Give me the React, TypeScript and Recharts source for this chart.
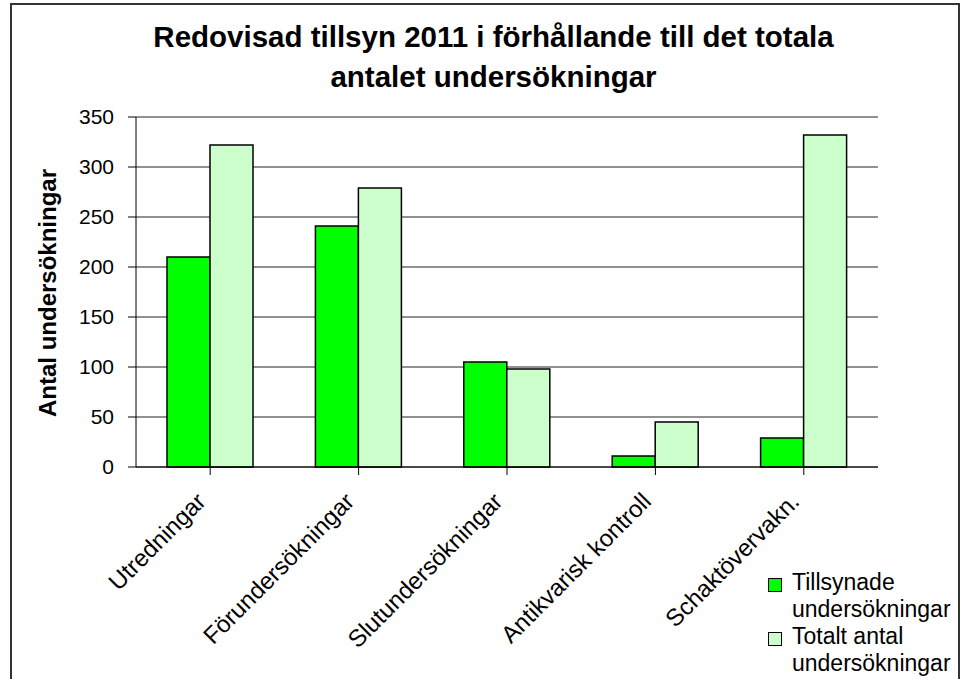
import { BarChart, Bar, XAxis, YAxis, CartesianGrid, Legend } from "recharts";

const CATEGORIES = [
  "Utredningar",
  "Förundersökningar",
  "Slutundersökningar",
  "Antikvarisk kontroll",
  "Schaktövervakn.",
];
const TILLSYNADE = [210, 241, 105, 11, 29];
const TOTALT = [322, 279, 98, 45, 332];
const Y_TICKS = [0, 50, 100, 150, 200, 250, 300, 350];

const SERIES = [
  { key: "tillsynade", name: "Tillsynade undersökningar", lines: ["Tillsynade", "undersökningar"], color: "#00ff00" },
  { key: "totalt", name: "Totalt antal undersökningar", lines: ["Totalt antal", "undersökningar"], color: "#ccffcc" },
];

const FONT = '"Liberation Sans", Arial, sans-serif';

const data = CATEGORIES.map((name, i) => ({
  name,
  tillsynade: TILLSYNADE[i],
  totalt: TOTALT[i],
}));

// rotated category label, text end sits just under the category centre
function CategoryTick(props: any) {
  const { x, y, payload } = props;
  return (
    <g transform={`translate(${x - 3},${y + 26})`}>
      <text
        textAnchor="end"
        transform="rotate(-45)"
        fontSize={24}
        fontFamily={FONT}
        fill="#000"
      >
        {payload.value}
      </text>
    </g>
  );
}

function LegendBox() {
  return (
    <div style={{ fontFamily: FONT, fontSize: 23, lineHeight: "27px", color: "#000" }}>
      {SERIES.map((s) => (
        <div key={s.key} style={{ display: "flex", alignItems: "flex-start" }}>
          <span
            style={{
              display: "inline-block",
              width: 12,
              height: 12,
              marginTop: 9,
              marginRight: 10,
              background: s.color,
              border: "1.5px solid #000",
            }}
          />
          <div>
            {s.lines.map((l) => (
              <div key={l}>{l}</div>
            ))}
          </div>
        </div>
      ))}
    </div>
  );
}

export default function App() {
  return (
    <div style={{ position: "absolute", left: 0, top: 0, width: 966, height: 679, background: "#fff", overflow: "hidden" }}>
      <div
        style={{
          position: "absolute",
          left: 10,
          top: 3,
          width: 946,
          height: 700,
          border: "2px solid #333",
        }}
      />
      <div
        style={{
          position: "absolute",
          left: 0,
          top: 17,
          width: 987,
          textAlign: "center",
          fontFamily: FONT,
          fontWeight: "bold",
          fontSize: 29.5,
          lineHeight: "40px",
          color: "#000",
        }}
      >
        Redovisad tillsyn 2011 i förhållande till det totala
        <br />
        antalet undersökningar
      </div>
      <BarChart
        width={966}
        height={679}
        data={data}
        barSize={43}
        barGap={0}
        margin={{ top: 117, right: 88, bottom: 112, left: 76 }}
        style={{ position: "absolute", left: 0, top: 0 }}
      >
        <CartesianGrid horizontal vertical={false} stroke="#222" strokeWidth={1} />
        <XAxis
          dataKey="name"
          height={100}
          interval={0}
          tick={<CategoryTick />}
          tickSize={8}
          axisLine={{ stroke: "#000" }}
          tickLine={{ stroke: "#000" }}
        />
        <YAxis
          width={60}
          domain={[0, 350]}
          ticks={Y_TICKS}
          interval={0}
          tickSize={8}
          tickMargin={14}
          axisLine={{ stroke: "#000" }}
          tickLine={{ stroke: "#000" }}
          tick={{ fontSize: 21, fontFamily: FONT, fill: "#000" }}
          label={() => (
            <text
              x={0}
              y={0}
              transform="translate(56,293) rotate(-90)"
              textAnchor="middle"
              fontSize={24}
              fontWeight="bold"
              fontFamily={FONT}
              fill="#000"
            >
              Antal undersökningar
            </text>
          )}
        />
        <Legend
          layout="horizontal"
          verticalAlign="middle"
          align="center"
          content={<LegendBox />}
          wrapperStyle={{ left: 768, top: 569, width: 200 }}
        />
        {SERIES.map((s) => (
          <Bar
            key={s.key}
            dataKey={s.key}
            name={s.name}
            fill={s.color}
            stroke="#000"
            strokeWidth={1.5}
            isAnimationActive={false}
          />
        ))}
      </BarChart>
    </div>
  );
}
